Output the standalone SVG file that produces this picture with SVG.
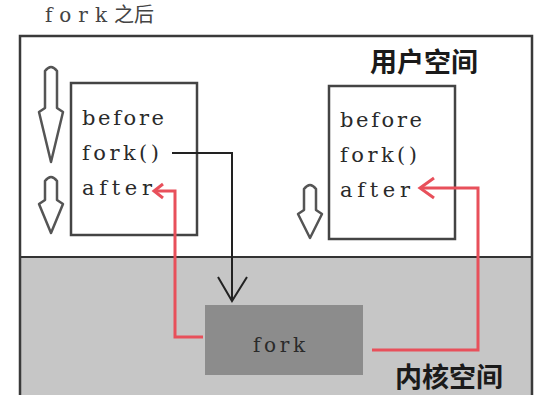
<svg xmlns="http://www.w3.org/2000/svg" width="534" height="395" viewBox="0 0 534 395">
<style>
.frame{fill:none;stroke:#3a3a3a;stroke-width:2.5}
.code{font-family:"DejaVu Serif","Liberation Serif",serif;font-size:21px;fill:#2a2a2a}
.box{fill:#fff;stroke:#444;stroke-width:2.5}
.cjk{font-family:"Noto Sans CJK SC","Noto Sans",sans-serif;font-weight:bold;font-size:27px;fill:#1a1a1a}
.flow{fill:#fff;stroke:#555;stroke-width:2.5;stroke-linejoin:round}
.red{fill:none;stroke:#e8505b;stroke-width:3;stroke-linejoin:miter}
.blk{fill:none;stroke:#222;stroke-width:2}
</style>
<rect x="0" y="0" width="534" height="395" fill="#fff"/>
<text x="45" y="22" style="font-family:'DejaVu Serif','Noto Sans CJK SC',serif;font-size:20px;fill:#444"><tspan textLength="62" lengthAdjust="spacing">fork</tspan><tspan style="font-family:'Noto Sans CJK SC',sans-serif;font-size:20px">之后</tspan></text>
<g id="kernel-space">
<rect x="20" y="257" width="512" height="138" fill="#c6c6c6"/>
<line x1="20" y1="257" x2="532" y2="257" stroke="#333" stroke-width="2"/>
</g>
<g id="frame">
<path class="frame" d="M20,395 V36 H532 V395"/>
</g>
<text class="cjk" x="370" y="72">用户空间</text>
<text class="cjk" x="395" y="387">内核空间</text>
<g id="flow-arrows">
<path class="flow" d="M45,71 Q51,63 57,71 L57,108 L63,112 L51,162 L39,112 L45,108 Z"/>
<path class="flow" d="M45,181 Q51,173 57,181 L57,200 L63,204 L51,233 L39,204 L45,200 Z"/>
<path class="flow" d="M304,189 Q310,181 316,189 L316,210 L322,214 L310,238 L298,214 L304,210 Z"/>
</g>
<g id="parent-process">
<rect class="box" x="71" y="83" width="126" height="152"/>
<text class="code" x="82" y="125" textLength="82" lengthAdjust="spacing">before</text>
<text class="code" x="82" y="160" textLength="77" lengthAdjust="spacing">fork()</text>
<text class="code" x="82" y="195" textLength="70" lengthAdjust="spacing">after</text>
</g>
<g id="child-process">
<rect class="box" x="329" y="86" width="126" height="153"/>
<text class="code" x="340" y="127" textLength="82" lengthAdjust="spacing">before</text>
<text class="code" x="340" y="162" textLength="77" lengthAdjust="spacing">fork()</text>
<text class="code" x="340" y="197" textLength="70" lengthAdjust="spacing">after</text>
</g>
<g id="fork-syscall">
<rect x="205" y="305" width="158" height="70" fill="#8c8c8c"/>
<text class="code" x="253" y="352" textLength="52" lengthAdjust="spacing" style="font-size:20px">fork</text>
</g>
<g id="connectors">
<path class="blk" d="M172,153 H232 V300"/>
<path class="blk" d="M218,277 L232,301 L247,277" stroke-width="2.5"/>
<path class="red" d="M203,337 H175 V191 H156"/>
<path class="red" d="M163,184 L154,191 L163,198"/>
<path class="red" d="M372,350 H478 V188 H422"/>
<path class="red" d="M434,178 L420,188 L434,198"/>
</g>
</svg>
